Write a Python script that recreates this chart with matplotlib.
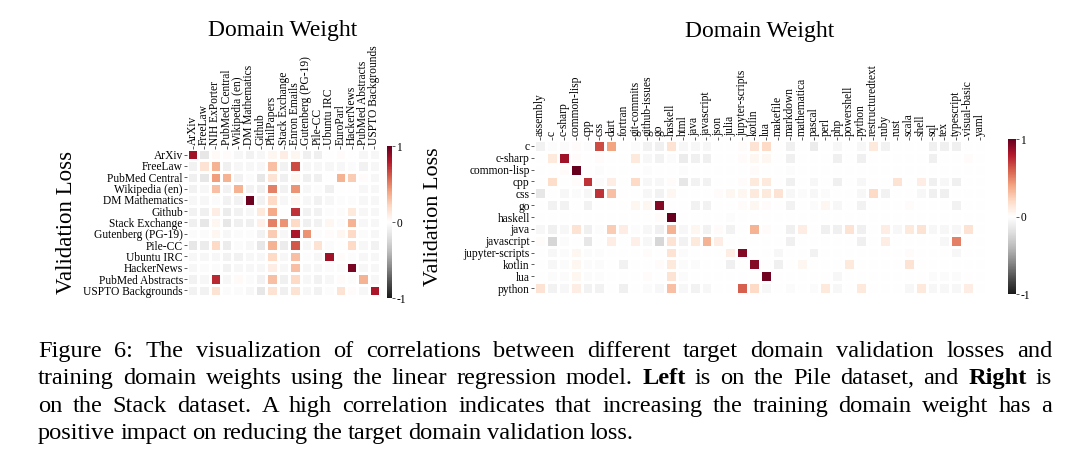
import matplotlib
matplotlib.use("Agg")
import matplotlib.pyplot as plt
import numpy as np

plt.rcParams["font.family"] = "Liberation Serif"
plt.rcParams["axes.unicode_minus"] = False

# ---- Pile (left) ----
pile_domains = ["ArXiv", "FreeLaw", "NIH ExPorter", "PubMed Central", "Wikipedia (en)",
                "DM Mathematics", "Github", "PhilPapers", "Stack Exchange", "Enron Emails",
                "Gutenberg (PG-19)", "Pile-CC", "Ubuntu IRC", "EuroParl", "HackerNews",
                "PubMed Abstracts", "USPTO Backgrounds"]
pile_targets = ["ArXiv", "FreeLaw", "PubMed Central", "Wikipedia (en)", "DM Mathematics",
                "Github", "Stack Exchange", "Gutenberg (PG-19)", "Pile-CC", "Ubuntu IRC",
                "HackerNews", "PubMed Abstracts", "USPTO Backgrounds"]
pile_corr = [
    [0.85, -0.15, 0.03, 0.02, -0.05, -0.08, -0.05, 0.05, 0.10, 0.05, -0.10, -0.10, 0.00, 0.02, 0.00, -0.05, -0.05],
    [-0.08, 0.15, 0.35, -0.10, -0.05, -0.05, -0.05, 0.30, -0.08, 0.65, -0.05, -0.05, -0.05, -0.05, -0.03, -0.08, -0.05],
    [-0.10, -0.15, 0.42, 0.35, -0.08, -0.03, -0.15, 0.15, -0.10, 0.05, -0.10, -0.10, 0.00, 0.35, 0.25, 0.02, -0.05],
    [-0.08, -0.05, 0.30, -0.08, 0.35, -0.08, -0.10, 0.50, -0.08, 0.45, -0.05, -0.02, -0.10, 0.00, 0.00, -0.05, -0.05],
    [-0.05, -0.05, -0.03, -0.08, -0.08, 0.98, -0.08, 0.20, -0.05, 0.05, -0.05, -0.08, -0.05, -0.02, -0.02, -0.05, -0.05],
    [-0.08, -0.10, 0.10, -0.12, -0.08, -0.05, 0.12, 0.38, 0.00, 0.72, -0.08, -0.08, -0.02, -0.02, 0.12, -0.05, -0.05],
    [-0.10, -0.15, 0.05, -0.15, -0.10, -0.10, 0.08, 0.50, 0.45, 0.20, -0.10, -0.08, 0.05, -0.03, 0.35, -0.05, -0.05],
    [-0.03, -0.03, 0.05, -0.05, -0.03, -0.02, -0.08, 0.25, -0.05, 0.82, 0.45, -0.02, 0.02, 0.05, 0.20, -0.03, -0.05],
    [-0.15, -0.12, 0.20, -0.12, -0.03, -0.05, -0.15, 0.35, -0.12, 0.62, -0.05, 0.15, -0.03, 0.00, 0.20, -0.05, -0.08],
    [-0.05, -0.05, -0.05, -0.08, -0.08, -0.05, -0.05, 0.20, -0.05, 0.30, -0.02, -0.05, 0.85, 0.02, -0.02, -0.05, -0.05],
    [-0.05, -0.03, -0.03, -0.08, -0.05, -0.05, -0.05, 0.10, -0.05, 0.30, -0.05, -0.05, -0.03, -0.03, 0.95, -0.05, -0.05],
    [-0.08, -0.05, 0.75, -0.05, 0.03, -0.03, -0.08, 0.30, -0.10, 0.20, -0.05, -0.08, -0.05, 0.02, -0.02, 0.35, -0.05],
    [-0.08, -0.08, 0.15, -0.03, -0.03, -0.05, -0.15, 0.15, -0.10, 0.15, -0.05, -0.08, -0.02, 0.15, 0.02, -0.05, 0.82],
]

# ---- Stack (right) ----
stack_domains = ["assembly", "c", "c-sharp", "common-lisp", "cpp", "css", "dart", "fortran",
                 "git-commits", "github-issues", "go", "haskell", "html", "java", "javascript",
                 "json", "julia", "jupyter-scripts", "kotlin", "lua", "makefile", "markdown",
                 "mathematica", "pascal", "perl", "php", "powershell", "python",
                 "restructuredtext", "ruby", "rust", "scala", "shell", "sql", "tex",
                 "typescript", "visual-basic", "yaml"]
stack_targets = ["c", "c-sharp", "common-lisp", "cpp", "css", "go", "haskell", "java",
                 "javascript", "jupyter-scripts", "kotlin", "lua", "python"]
stack_corr = [
    [-0.08, -0.02, -0.03, 0.02, -0.02, 0.65, 0.40, 0.00, -0.03, -0.08, -0.10, 0.15, -0.05,
     -0.05, -0.05, 0.00, 0.00, 0.02, 0.15, 0.20, 0.00, -0.10, 0.00, -0.12, 0.00, -0.05,
     0.00, -0.05, 0.12, -0.08, 0.00, 0.00, 0.00, -0.10, -0.10, -0.10, 0.00, 0.00],
    [0.00, 0.12, 0.85, 0.02, 0.00, 0.02, 0.00, 0.00, 0.12, -0.05, -0.08, -0.03, -0.12,
     -0.10, -0.10, 0.00, 0.00, 0.02, 0.05, 0.05, 0.00, -0.10, 0.00, 0.00, 0.00, -0.10,
     0.00, -0.10, 0.00, 0.00, 0.00, 0.00, 0.00, -0.10, 0.00, 0.00, 0.02, 0.00],
    [0.00, 0.00, 0.02, 1.00, 0.00, -0.02, 0.00, 0.00, 0.00, -0.02, 0.00, 0.00, -0.02,
     0.00, 0.00, 0.00, 0.00, 0.00, 0.02, 0.00, 0.00, -0.02, 0.00, 0.00, 0.00, 0.00,
     0.00, 0.00, 0.00, 0.00, 0.00, 0.00, 0.00, 0.00, 0.00, 0.00, 0.00, 0.00],
    [0.00, 0.18, 0.00, 0.02, 0.72, -0.03, 0.10, 0.00, 0.20, -0.05, -0.05, 0.02, -0.15,
     -0.08, -0.08, 0.00, 0.00, 0.02, 0.12, 0.12, 0.00, -0.10, 0.00, -0.05, 0.00, -0.10,
     0.00, -0.05, 0.00, 0.00, 0.15, 0.00, 0.10, -0.10, -0.05, -0.10, 0.00, 0.00],
    [-0.15, 0.00, -0.05, -0.03, -0.05, 0.72, 0.30, 0.00, 0.00, -0.05, -0.08, 0.05, 0.00,
     0.00, 0.00, 0.02, 0.05, 0.05, 0.12, 0.12, 0.15, -0.05, -0.03, -0.05, -0.03, 0.00,
     0.00, -0.05, 0.20, -0.08, 0.00, 0.00, -0.05, -0.10, -0.10, 0.00, 0.00, 0.00],
    [0.00, -0.08, -0.08, 0.00, -0.08, 0.00, 0.00, 0.00, 0.05, 0.05, 0.92, 0.00, 0.00,
     -0.08, -0.08, 0.00, 0.00, 0.02, 0.05, 0.02, 0.00, -0.08, 0.00, -0.03, 0.05, -0.05,
     0.00, -0.08, 0.00, 0.00, 0.00, 0.02, 0.00, 0.00, 0.00, -0.08, 0.00, 0.00],
    [0.00, 0.00, 0.00, 0.00, 0.00, 0.00, 0.00, 0.00, 0.00, 0.00, 0.02, 1.00, 0.00,
     0.00, 0.00, 0.00, -0.02, 0.00, 0.00, 0.00, 0.00, 0.00, 0.00, 0.00, 0.00, 0.00,
     0.00, 0.00, 0.00, 0.00, 0.00, 0.00, 0.00, 0.00, 0.00, 0.00, 0.00, 0.00],
    [-0.05, -0.10, -0.05, 0.15, -0.10, -0.02, 0.25, 0.10, -0.02, -0.05, -0.10, 0.35, -0.05,
     0.05, -0.08, 0.02, -0.08, 0.00, 0.35, 0.02, 0.00, -0.10, 0.10, 0.00, -0.10, -0.10,
     0.15, -0.10, 0.00, 0.10, -0.05, 0.12, 0.15, -0.05, -0.05, -0.05, 0.15, 0.00],
    [0.02, -0.25, -0.03, 0.00, -0.15, 0.00, 0.10, 0.00, 0.08, -0.05, -0.25, 0.15, -0.08,
     0.12, 0.35, 0.10, 0.00, 0.00, 0.00, 0.00, 0.00, -0.10, 0.00, 0.00, 0.00, 0.00,
     0.00, -0.10, 0.00, 0.10, 0.00, 0.00, 0.00, 0.00, -0.05, 0.50, 0.00, 0.00],
    [0.00, -0.05, -0.03, 0.05, -0.03, -0.02, 0.00, 0.00, 0.00, 0.02, 0.00, 0.15, -0.03,
     0.00, 0.00, 0.00, 0.10, 0.92, 0.00, 0.00, -0.05, 0.00, 0.00, -0.08, 0.00, 0.00,
     0.00, 0.00, 0.00, 0.00, 0.00, 0.02, 0.00, 0.00, 0.00, -0.05, 0.00, 0.00],
    [0.00, -0.05, -0.03, 0.05, -0.03, -0.03, 0.00, -0.08, 0.00, 0.00, 0.02, 0.12, -0.03,
     -0.03, 0.00, 0.00, -0.10, 0.00, 0.92, 0.00, -0.10, 0.00, 0.05, 0.00, 0.00, 0.00,
     0.12, 0.00, 0.00, 0.00, 0.00, 0.15, 0.00, 0.00, 0.00, 0.00, 0.00, 0.00],
    [0.00, -0.03, -0.03, 0.05, -0.03, -0.02, 0.00, 0.00, 0.00, 0.02, 0.00, 0.15, -0.03,
     0.00, 0.00, 0.00, 0.00, 0.00, 0.00, 0.97, 0.00, 0.00, 0.00, 0.00, 0.00, -0.05,
     0.00, 0.00, 0.00, 0.00, 0.00, 0.00, 0.00, -0.03, -0.03, -0.03, 0.00, 0.00],
    [0.15, -0.08, -0.05, 0.10, -0.08, -0.08, 0.00, -0.10, 0.00, -0.03, -0.05, 0.30, -0.05,
     -0.08, -0.05, 0.00, 0.00, 0.60, 0.20, -0.05, 0.00, -0.03, 0.00, -0.03, 0.12, -0.05,
     0.00, 0.12, 0.00, 0.00, 0.00, -0.05, 0.12, -0.05, -0.05, -0.05, 0.10, 0.00],
]

caption_lines = [
    "Figure 6: The visualization of correlations between different target domain validation losses and",
    "training domain weights using the linear regression model. Left is on the Pile dataset, and Right is",
    "on the Stack dataset. A high correlation indicates that increasing the training domain weight has a",
    "positive impact on reducing the target domain validation loss.",
]
bold_words = {"Left", "Right"}

W, H = 1080, 469
fig = plt.figure(figsize=(W / 100, H / 100), dpi=100)


def box(x0, y0, x1, y1):
    # pixel box (top-left origin) -> figure fraction
    return [x0 / W, 1 - y1 / H, (x1 - x0) / W, (y1 - y0) / H]


def heatmap(ax_px, cb_px, corr, rows, cols):
    ax = fig.add_axes(box(*ax_px))
    data = np.array(corr)
    mesh = ax.pcolormesh(data, cmap="RdGy_r", vmin=-1, vmax=1,
                         edgecolors="white", linewidth=0.8)
    ax.set_xlim(0, data.shape[1])
    ax.set_ylim(data.shape[0], 0)
    ax.xaxis.tick_top()
    ax.set_xticks(np.arange(len(cols)) + 0.5)
    ax.set_xticklabels(cols, rotation=90, fontsize=8.3)
    ax.set_yticks(np.arange(len(rows)) + 0.5)
    ax.set_yticklabels(rows, fontsize=8.3)
    ax.tick_params(length=2, width=0.6, pad=1, color="#444444")
    for s in ax.spines.values():
        s.set_visible(False)

    cax = fig.add_axes(box(*cb_px))
    cb = fig.colorbar(mesh, cax=cax, ticks=[-1, 0, 1])
    cb.outline.set_visible(False)
    cb.ax.set_yticklabels(["-1", "0", "1"])
    cb.ax.tick_params(labelsize=8.3, length=2, width=0.6, pad=1, color="#444444")
    return ax


heatmap((187, 149, 380, 296), (387, 146, 392, 298), pile_corr, pile_targets, pile_domains)
heatmap((534, 140, 986, 294), (1008, 139, 1016, 294), stack_corr, stack_targets, stack_domains)

fig.text(283 / W, 1 - 30 / H, "Domain Weight", ha="center", va="center", fontsize=17)
fig.text(760 / W, 1 - 31 / H, "Domain Weight", ha="center", va="center", fontsize=17)
fig.text(66 / W, 1 - 222 / H, "Validation Loss", ha="center", va="center",
         rotation=90, fontsize=16.5)
fig.text(434 / W, 1 - 217 / H, "Validation Loss", ha="center", va="center",
         rotation=90, fontsize=16)

# caption, justified like the LaTeX original
renderer = fig.canvas.get_renderer()
left_px, right_px = 38, 1052
baselines = [357, 384, 412, 439]
cap_size = 17.6
for i, line in enumerate(caption_lines):
    words = line.split(" ")
    y = 1 - baselines[i] / H
    texts = [fig.text(0, y, w, fontsize=cap_size, va="baseline",
                      fontweight="bold" if w in bold_words else "normal")
             for w in words]
    widths = [t.get_window_extent(renderer).width for t in texts]
    if i < len(caption_lines) - 1:
        gap = (right_px - left_px - sum(widths)) / (len(words) - 1)
    else:
        gap = 0.22 * cap_size * 100 / 72
    x = left_px
    for t, w in zip(texts, widths):
        t.set_x(x / W)
        x += w + gap

fig.savefig("out.png", dpi=100)
